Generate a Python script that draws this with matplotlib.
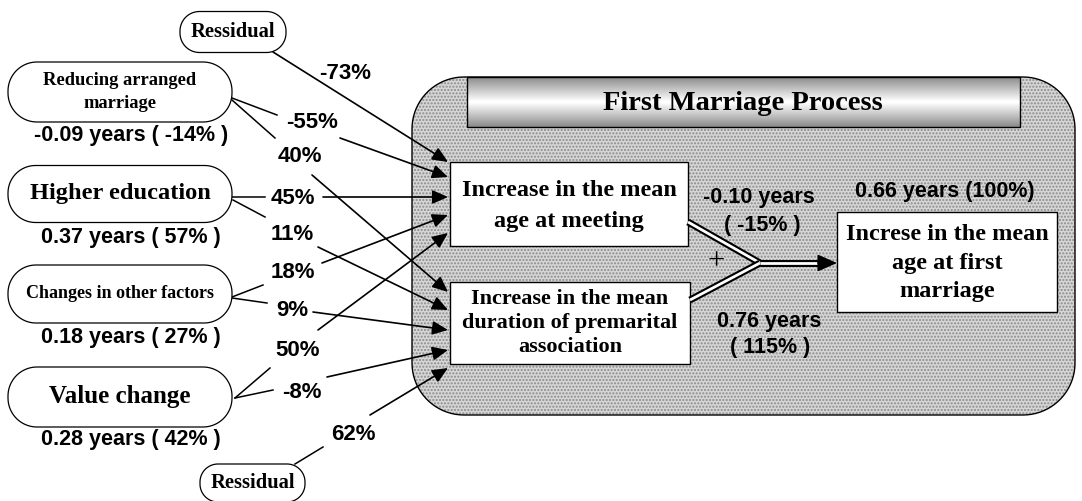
import numpy as np
import matplotlib.pyplot as plt
from matplotlib.patches import Polygon, Rectangle

# ---- values ----
factors = ['Reducing arranged\nmarriage', 'Higher education',
           'Changes in other factors', 'Value change']
factor_years = [-0.09, 0.37, 0.18, 0.28]
factor_share = [-14, 57, 27, 42]
to_meeting = [-55, 45, 18, 50]      # path coefficient -> mean age at meeting
to_duration = [40, 11, 9, -8]       # path coefficient -> duration of association
resid_meeting = -73
resid_duration = 62
meeting_years, meeting_share = -0.10, -15
duration_years, duration_share = 0.76, 115
total_years, total_share = 0.66, 100

# ---- layout (pixel coords, y down) ----
pill_y = [92, 194, 294, 397]
pill_h = [60, 57, 58, 60]
pill_fs = [13.3, 17.6, 13, 18]
years_y = [136, 238, 338, 439]

meet_stub = [((232, 98), (277, 115)), ((232, 197), (265, 197)),
             ((232, 297), (263, 285)), ((235, 398), (270, 368))]
meet_arrow = [((340, 138), (448, 177)), ((323, 197), (448, 197)),
              ((322, 263), (448, 215)), ((318, 330), (448, 233))]
meet_lab = [(312, 122), (293, 198), (293, 272), (298, 350)]
dur_stub = [((232, 100), (275, 138)), ((233, 200), (265, 217)),
            ((232, 298), (267, 303)), ((235, 398), (273, 390))]
dur_arrow = [((312, 175), (448, 292)), ((318, 247), (448, 310)),
             ((313, 312), (448, 330)), ((327, 377), (448, 350))]
dur_lab = [(300, 157), (292, 235), (292, 310), (302, 393)]

SERIF = 'Liberation Serif'
SANS = 'Liberation Sans'
NUM_FS = 15.5

fig = plt.figure(figsize=(10.82, 5.01), dpi=100)
ax = fig.add_axes([0, 0, 1, 1])
ax.set_xlim(0, 1082)
ax.set_ylim(501, 0)
ax.set_aspect('equal')
ax.axis('off')


def rrect(x0, y0, x1, y1, r):
    # rounded rectangle outline with true circular corners
    pts = []
    for cx, cy, a0 in [(x1 - r, y0 + r, -90), (x1 - r, y1 - r, 0),
                       (x0 + r, y1 - r, 90), (x0 + r, y0 + r, 180)]:
        t = np.radians(np.linspace(a0, a0 + 90, 20))
        pts += list(zip(cx + r * np.cos(t), cy + r * np.sin(t)))
    return np.array(pts)


def pill(x0, x1, yc, h, text, fs):
    ax.add_patch(Polygon(rrect(x0, yc - h / 2, x1, yc + h / 2, h / 2 - 1),
                         closed=True, fc='white', ec='black', lw=0.9, zorder=3))
    ax.text((x0 + x1) / 2, yc, text, ha='center', va='center', fontsize=fs,
            family=SERIF, weight='bold', linespacing=1.5, zorder=4)


def arrow(a, b, ms=19):
    ax.annotate('', xy=b, xytext=a,
                arrowprops=dict(arrowstyle='-|>,head_length=0.5,head_width=0.22',
                                mutation_scale=ms, lw=1.2, color='black',
                                shrinkA=0, shrinkB=0), zorder=5)


def seg(a, b):
    ax.plot([a[0], b[0]], [a[1], b[1]], color='black', lw=1.1, zorder=2)


def pct(xy, v):
    ax.text(xy[0], xy[1], '%d%%' % v, ha='center', va='center', fontsize=16,
            family=SANS, weight='bold', zorder=4)


# big shaded process box
outline = rrect(412, 77, 1075, 415, 52)
ax.add_patch(Polygon(outline, closed=True, fc='#d6d6d6', ec='#8a8a8a', lw=0,
                     hatch='.....', zorder=1))
ax.add_patch(Polygon(outline, closed=True, fc='none', ec='black', lw=1.0, zorder=1))

# title bar with gradient
grad = np.concatenate([np.linspace(0.55, 1.0, 25), np.linspace(1.0, 0.55, 25)])
grad = np.tile(grad[:, None], (1, 50))
ax.imshow(grad, cmap='gray', vmin=0, vmax=1, extent=(467, 1020, 127, 77),
          aspect='auto', interpolation='bilinear', zorder=2)
ax.add_patch(Rectangle((467, 77), 553, 50, fc='none', ec='black', lw=1.0, zorder=3))
ax.text(743, 103, 'First Marriage Process', ha='center', va='center', fontsize=20.5,
        family=SERIF, weight='bold', zorder=4)

# the three outcome boxes
ax.add_patch(Rectangle((450, 162), 238, 84, fc='white', ec='black', lw=1.0, zorder=3))
ax.text(569, 206, 'Increase in the mean\nage at meeting', ha='center', va='center',
        fontsize=17.5, family=SERIF, weight='bold', linespacing=1.65, zorder=4)
ax.add_patch(Rectangle((450, 282), 240, 82, fc='white', ec='black', lw=1.0, zorder=3))
ax.text(570, 323, 'Increase in the mean\nduration of premarital\nassociation',
        ha='center', va='center', fontsize=16, family=SERIF, weight='bold',
        linespacing=1.3, zorder=4)
ax.add_patch(Rectangle((837, 212), 220, 100, fc='white', ec='black', lw=1.0, zorder=3))
ax.text(947, 263, 'Increse in the mean\nage at first\nmarriage', ha='center',
        va='center', fontsize=17.5, family=SERIF, weight='bold', linespacing=1.45,
        zorder=4)

# double lines joining into the total
for a, b in [((688, 222), (760, 263)), ((690, 300), (760, 263)), ((760, 263), (825, 263))]:
    ax.plot([a[0], b[0]], [a[1], b[1]], color='black', lw=5, solid_capstyle='butt', zorder=3)
    ax.plot([a[0], b[0]], [a[1], b[1]], color='white', lw=2, solid_capstyle='butt', zorder=3)
arrow((818, 263), (837, 263), ms=24)
ax.text(716, 262, '+', ha='center', va='center', fontsize=22, family=SERIF, zorder=4)

ax.text(759, 197, '%.2f years' % meeting_years, ha='center', va='center',
        fontsize=NUM_FS, family=SANS, weight='bold', zorder=4)
ax.text(762, 225, '( %d%% )' % meeting_share, ha='center', va='center',
        fontsize=NUM_FS, family=SANS, weight='bold', zorder=4)
ax.text(769, 322, '%.2f years' % duration_years, ha='center', va='center',
        fontsize=NUM_FS, family=SANS, weight='bold', zorder=4)
ax.text(770, 348, '( %d%% )' % duration_share, ha='center', va='center',
        fontsize=NUM_FS, family=SANS, weight='bold', zorder=4)
ax.text(945, 192, '%.2f years (%d%%)' % (total_years, total_share), ha='center',
        va='center', fontsize=NUM_FS, family=SANS, weight='bold', zorder=4)

# factor pills and their paths
for i in range(4):
    pill(8, 232, pill_y[i], pill_h[i], factors[i], pill_fs[i])
    ax.text(131, years_y[i], '%.2f years ( %d%% )' % (factor_years[i], factor_share[i]),
            ha='center', va='center', fontsize=NUM_FS, family=SANS, weight='bold')
    seg(*meet_stub[i])
    arrow(*meet_arrow[i])
    pct(meet_lab[i], to_meeting[i])
    seg(*dur_stub[i])
    arrow(*dur_arrow[i])
    pct(dur_lab[i], to_duration[i])

# residuals
pill(180, 286, 32, 41, 'Ressidual', 14.8)
arrow((273, 52), (448, 162))
pct((345, 73), resid_meeting)
pill(200, 305, 483, 38, 'Ressidual', 14.8)
seg((295, 464), (323, 447))
arrow((370, 415), (448, 368))
pct((353, 435), resid_duration)

fig.savefig('out.png', dpi=100)
